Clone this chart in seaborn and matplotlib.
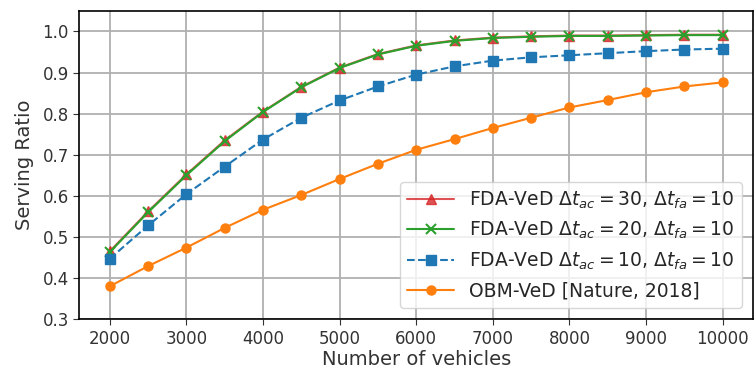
import matplotlib
matplotlib.use("Agg")
import matplotlib.pyplot as plt
import seaborn as sns
import pandas as pd

vehicles = [2000, 2500, 3000, 3500, 4000, 4500, 5000, 5500, 6000, 6500,
            7000, 7500, 8000, 8500, 9000, 9500, 10000]
fda_30 = [0.465, 0.562, 0.652, 0.735, 0.805, 0.865, 0.912, 0.945, 0.966, 0.978,
          0.985, 0.988, 0.990, 0.990, 0.991, 0.992, 0.992]
fda_20 = [0.463, 0.560, 0.650, 0.733, 0.804, 0.864, 0.911, 0.944, 0.965, 0.977,
          0.984, 0.987, 0.989, 0.989, 0.990, 0.991, 0.991]
fda_10 = [0.447, 0.528, 0.604, 0.671, 0.737, 0.790, 0.832, 0.866, 0.895, 0.915,
          0.929, 0.937, 0.942, 0.947, 0.952, 0.956, 0.958]
obm = [0.380, 0.429, 0.474, 0.522, 0.566, 0.602, 0.641, 0.678, 0.712, 0.738,
       0.765, 0.790, 0.815, 0.833, 0.852, 0.866, 0.876]
labels = [r"FDA-VeD $\Delta t_{ac} = 30$, $\Delta t_{fa} = 10$",
          r"FDA-VeD $\Delta t_{ac} = 20$, $\Delta t_{fa} = 10$",
          r"FDA-VeD $\Delta t_{ac} = 10$, $\Delta t_{fa} = 10$",
          "OBM-VeD [Nature, 2018]"]
yticks = [0.3, 0.4, 0.5, 0.6, 0.7, 0.8, 0.9, 1.0]
xticks = [2000, 3000, 4000, 5000, 6000, 7000, 8000, 9000, 10000]

sns.set_style("ticks")
plt.rcParams['font.family'] = ['DejaVu Sans']

fig = plt.figure(figsize=(7.54, 3.75), dpi=100)
ax = fig.add_axes([0.105, 0.149, 0.894, 0.822])

styles = [
    dict(color="tab:red", marker="^", linestyle="-", alpha=0.8),
    dict(color="tab:green", marker="x", linestyle="-", alpha=1.0),
    dict(color="tab:blue", marker="s", linestyle="--", alpha=1.0),
    dict(color="tab:orange", marker="o", linestyle="-", alpha=1.0),
]
for vals, lab, st in zip([fda_30, fda_20, fda_10, obm], labels, styles):
    df = pd.DataFrame({"x": vehicles, "y": vals})
    sns.lineplot(data=df, x="x", y="y", ax=ax, label=lab, color=st["color"],
                 marker=st["marker"], linestyle=st["linestyle"], alpha=st["alpha"],
                 markersize=6.5, linewidth=1.5, markeredgecolor=st["color"],
                 markeredgewidth=1.5 if st["marker"] == "x" else 1.0)

ax.set_xlim(1600, 10400)
ax.set_ylim(0.3, 1.05)
ax.set_xticks(xticks)
ax.set_yticks(yticks)
ax.grid(True, color="#b0b0b0", linewidth=1.3)
ax.set_axisbelow(True)
for s in ax.spines.values():
    s.set_color("black")
    s.set_linewidth(1.2)
    s.set_visible(True)
ax.tick_params(labelsize=12, colors="#333333", length=4)
ax.set_xlabel("Number of vehicles", fontsize=14, color="#333333", labelpad=2)
ax.set_ylabel("Serving Ratio", fontsize=14, color="#333333", labelpad=6)
ax.legend(loc="lower right", fontsize=13.5, frameon=True, handlelength=2.5,
          borderaxespad=0.6)

fig.savefig("out.png", dpi=100)
